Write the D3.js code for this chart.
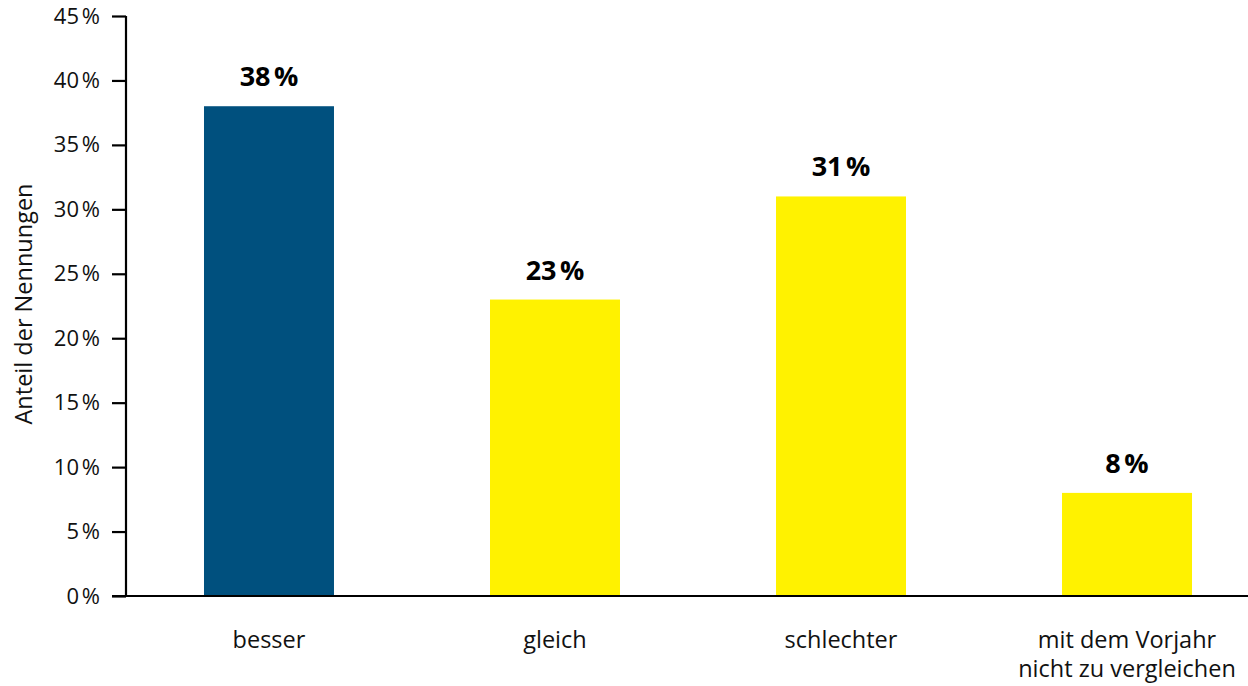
<!DOCTYPE html>
<html lang="de">
<head>
<meta charset="utf-8">
<script src="https://cdn.jsdelivr.net/npm/d3@7"></script>
<style>
  html, body { margin: 0; padding: 0; background: #fff; }
  svg { display: block; font-family: "Open Sans", "Noto Sans", sans-serif; }
</style>
</head>
<body>
<svg id="chart" width="1248" height="686"></svg>
<script>
// Anteil der Nennungen je Antwortkategorie
const categories = ["besser", "gleich", "schlechter", "mit dem Vorjahr|nicht zu vergleichen"];
const values = [38, 23, 31, 8];
const barColors = ["#00507e", "#fff200", "#fff200", "#fff200"];
const yTicks = [0, 5, 10, 15, 20, 25, 30, 35, 40, 45];
const yTitle = "Anteil der Nennungen";

const svg = d3.select("#chart");
const W = 1248;
const plotLeft = 126, plotBottom = 596, plotTop = 16, bandEnd = 1270;

const x = d3.scaleBand()
  .domain(categories)
  .range([plotLeft, bandEnd])
  .paddingInner(0.5455)
  .paddingOuter(0.2727);

const y = d3.scaleLinear()
  .domain([0, 45])
  .range([plotBottom, plotTop]);

const pct = v => v + "\u202F%";

// bars
svg.append("g")
  .selectAll("rect")
  .data(values)
  .join("rect")
  .attr("x", (d, i) => x(categories[i]))
  .attr("y", d => y(d))
  .attr("width", x.bandwidth())
  .attr("height", d => y(0) - y(d))
  .attr("fill", (d, i) => barColors[i]);

// value labels
svg.append("g")
  .selectAll("text")
  .data(values)
  .join("text")
  .attr("x", (d, i) => x(categories[i]) + x.bandwidth() / 2)
  .attr("y", d => y(d) - 20)
  .attr("text-anchor", "middle")
  .attr("font-size", 27)
  .attr("font-weight", 700)
  .attr("fill", "#000")
  .text(d => pct(d));

// y axis
const yAxis = d3.axisLeft(y)
  .tickValues(yTicks)
  .tickSize(14)
  .tickPadding(12)
  .tickFormat(d => pct(d));

const gy = svg.append("g")
  .attr("transform", `translate(${plotLeft},0)`)
  .call(yAxis);
gy.select(".domain").attr("d", `M0,${plotTop}V${plotBottom + 1}`).attr("stroke", "#000").attr("stroke-width", 2.2);
gy.selectAll(".tick line").attr("stroke", "#000").attr("stroke-width", 2.2);
gy.selectAll(".tick text")
  .attr("font-size", 22)
  .attr("fill", "#111")
  .style("font-family", "'Open Sans', 'Noto Sans', sans-serif");

// x axis baseline
const gx = svg.append("g")
  .attr("transform", `translate(0,${plotBottom})`)
  .call(d3.axisBottom(x).tickSize(0).tickPadding(0).tickFormat(""));
gx.select(".domain").attr("d", `M${plotLeft - 14},0H${W}`).attr("stroke", "#000").attr("stroke-width", 2.2);

// category labels (multi-line where split by "|")
const catG = svg.append("g");
categories.forEach(c => {
  const lines = c.split("|");
  const cx = x(c) + x.bandwidth() / 2;
  const t = catG.append("text")
    .attr("x", cx)
    .attr("y", 648)
    .attr("text-anchor", "middle")
    .attr("font-size", 23.5)
    .attr("fill", "#111");
  lines.forEach((l, i) => {
    t.append("tspan")
      .attr("x", cx)
      .attr("dy", i === 0 ? 0 : 29)
      .text(l);
  });
});

// y axis title
svg.append("text")
  .attr("transform", `translate(32,${(plotTop + plotBottom) / 2 - 2}) rotate(-90)`)
  .attr("text-anchor", "middle")
  .attr("font-size", 23.5)
  .attr("fill", "#111")
  .text(yTitle);
</script>
</body>
</html>
